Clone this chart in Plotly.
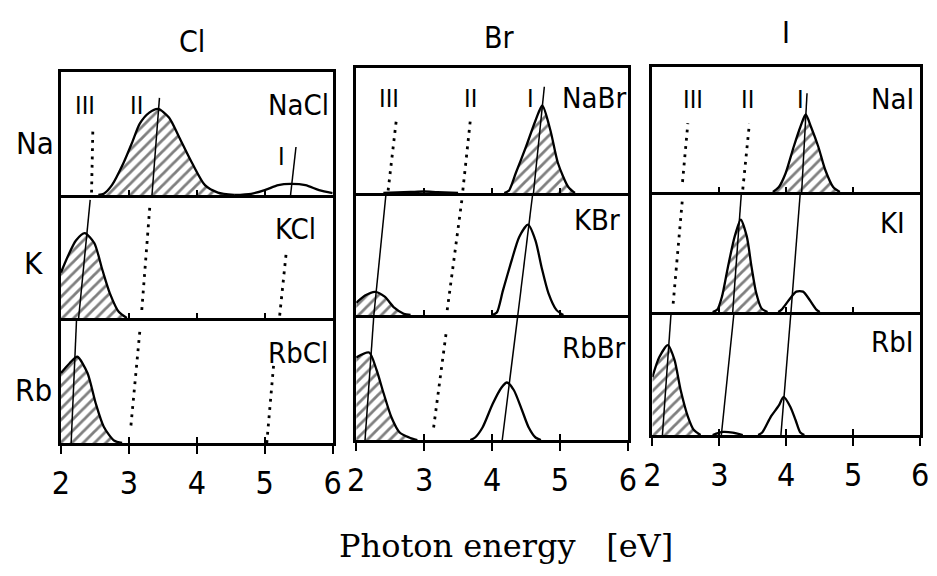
import plotly.graph_objects as go

# ---- data -------------------------------------------------------------
halogens = ["Cl", "Br", "I"]
alkalis = ["Na", "K", "Rb"]
salt_names = [["NaCl", "NaBr", "NaI"],
              ["KCl", "KBr", "KI"],
              ["RbCl", "RbBr", "RbI"]]
energy_ticks = [2, 3, 4, 5, 6]

# emission bands: photon energy [eV] vs. relative intensity (panel height = 1)
nacl_band_x = [2.55, 2.63, 2.75, 2.92, 3.05, 3.16, 3.30, 3.43, 3.59, 3.74, 3.93, 4.12, 4.31, 4.55]
nacl_band_y = [0.0, 0.01, 0.08, 0.26, 0.43, 0.58, 0.67, 0.70, 0.63, 0.47, 0.26, 0.08, 0.02, 0.0]
nacl_weak_x = [4.55, 4.80, 5.00, 5.20, 5.38, 5.60, 5.80, 6.00]
nacl_weak_y = [0.0, 0.01, 0.04, 0.08, 0.09, 0.08, 0.04, 0.015]

kcl_band_x = [2.0, 2.10, 2.22, 2.35, 2.49, 2.61, 2.72, 2.85, 2.97]
kcl_band_y = [0.37, 0.50, 0.63, 0.69, 0.61, 0.39, 0.20, 0.05, 0.0]

rbcl_band_x = [2.0, 2.13, 2.24, 2.39, 2.51, 2.63, 2.78, 2.90]
rbcl_band_y = [0.56, 0.64, 0.69, 0.56, 0.32, 0.13, 0.02, 0.0]

nabr_band_x = [4.18, 4.25, 4.35, 4.50, 4.64, 4.74, 4.86, 4.97, 5.12, 5.22]
nabr_band_y = [0.0, 0.02, 0.16, 0.37, 0.58, 0.70, 0.50, 0.24, 0.05, 0.0]
nabr_weak_x = [2.4, 2.8, 3.0, 3.2, 3.5]
nabr_weak_y = [0.0, 0.008, 0.012, 0.006, 0.0]

kbr_band_x = [2.0, 2.13, 2.28, 2.42, 2.56, 2.70, 2.80]
kbr_band_y = [0.10, 0.16, 0.19, 0.15, 0.06, 0.01, 0.0]
kbr_open_x = [4.00, 4.07, 4.16, 4.29, 4.40, 4.53, 4.64, 4.73, 4.83, 4.95, 5.05]
kbr_open_y = [0.0, 0.02, 0.20, 0.45, 0.64, 0.74, 0.61, 0.39, 0.18, 0.04, 0.0]

rbbr_band_x = [2.0, 2.19, 2.30, 2.40, 2.52, 2.64, 2.78, 2.90]
rbbr_band_y = [0.66, 0.70, 0.56, 0.38, 0.18, 0.06, 0.02, 0.0]
rbbr_open_x = [3.68, 3.75, 3.86, 4.01, 4.14, 4.22, 4.32, 4.44, 4.54, 4.64, 4.72]
rbbr_open_y = [0.0, 0.02, 0.10, 0.29, 0.42, 0.46, 0.40, 0.24, 0.10, 0.02, 0.0]

nai_band_x = [3.80, 3.89, 3.99, 4.11, 4.21, 4.29, 4.37, 4.48, 4.58, 4.70, 4.80]
nai_band_y = [0.0, 0.04, 0.15, 0.36, 0.52, 0.62, 0.52, 0.36, 0.18, 0.04, 0.0]

ki_band_x = [2.90, 2.97, 3.04, 3.13, 3.23, 3.32, 3.41, 3.48, 3.55, 3.63, 3.72]
ki_band_y = [0.0, 0.02, 0.13, 0.38, 0.63, 0.77, 0.63, 0.38, 0.16, 0.03, 0.0]
ki_open_x = [3.88, 3.93, 4.04, 4.15, 4.25, 4.35, 4.45, 4.50]
ki_open_y = [0.0, 0.02, 0.10, 0.17, 0.17, 0.10, 0.02, 0.0]

rbi_band_x = [2.0, 2.10, 2.23, 2.33, 2.42, 2.53, 2.62, 2.72]
rbi_band_y = [0.47, 0.63, 0.73, 0.61, 0.37, 0.15, 0.04, 0.0]
rbi_open_x = [3.58, 3.64, 3.77, 3.89, 3.96, 4.06, 4.14, 4.21, 4.27]
rbi_open_y = [0.0, 0.02, 0.15, 0.24, 0.31, 0.23, 0.12, 0.02, 0.0]
rbi_weak_x = [2.90, 3.05, 3.20, 3.35]
rbi_weak_y = [0.0, 0.025, 0.02, 0.0]

# (row, col, x, y, hatched)
bands = [
    (0, 0, nacl_band_x, nacl_band_y, True),
    (0, 0, nacl_weak_x, nacl_weak_y, False),
    (1, 0, kcl_band_x, kcl_band_y, True),
    (2, 0, rbcl_band_x, rbcl_band_y, True),
    (0, 1, nabr_band_x, nabr_band_y, True),
    (0, 1, nabr_weak_x, nabr_weak_y, False),
    (1, 1, kbr_band_x, kbr_band_y, True),
    (1, 1, kbr_open_x, kbr_open_y, False),
    (2, 1, rbbr_band_x, rbbr_band_y, True),
    (2, 1, rbbr_open_x, rbbr_open_y, False),
    (0, 2, nai_band_x, nai_band_y, True),
    (1, 2, ki_band_x, ki_band_y, True),
    (1, 2, ki_open_x, ki_open_y, False),
    (2, 2, rbi_band_x, rbi_band_y, True),
    (2, 2, rbi_open_x, rbi_open_y, False),
    (2, 2, rbi_weak_x, rbi_weak_y, False),
]

# trend lines of the band families I, II, III (solid: observed, dotted: expected)
seg_row = [0, 0, 0, 1, 1, 1, 2, 2, 2,
           0, 0, 0, 1, 1, 1, 2, 2, 2,
           0, 0, 0, 1, 1, 1, 2, 2, 2]
seg_col = [0, 0, 0, 0, 0, 0, 0, 0, 0,
           1, 1, 1, 1, 1, 1, 1, 1, 1,
           2, 2, 2, 2, 2, 2, 2, 2, 2]
seg_x0 = [2.45, 3.34, 5.38, 2.26, 3.19, 5.22, 2.15, 3.03, 5.03,
          2.47, 3.57, 4.61, 2.26, 3.34, 4.38, 2.13, 3.14, 4.15,
          2.45, 3.35, 4.23, 2.31, 3.20, 4.07, 2.15, 3.03, 3.92]
seg_y0 = [0.02, 0.0, 0.0, 0.0, 0.065, 0.02, 0.0, 0.14, 0.0,
          0.02, 0.02, 0.0, 0.0, 0.04, 0.0, 0.0, 0.10, 0.0,
          0.08, 0.02, 0.0, 0.07, 0.0, 0.0, 0.0, 0.0, 0.0]
seg_x1 = [2.47, 3.45, 5.46, 2.43, 3.31, 5.32, 2.23, 3.16, 5.13,
          2.59, 3.68, 4.77, 2.44, 3.56, 4.60, 2.26, 3.33, 4.38,
          2.53, 3.45, 4.31, 2.45, 3.33, 4.21, 2.28, 3.22, 4.07]
seg_y1 = [0.55, 0.79, 0.39, 0.96, 0.92, 0.55, 1.0, 0.89, 0.62,
          0.58, 0.58, 0.85, 1.0, 0.96, 1.0, 1.0, 0.88, 1.0,
          0.55, 0.55, 0.79, 0.95, 1.0, 1.0, 1.0, 1.0, 1.0]
seg_dotted = [True, False, False, False, True, True, False, True, True,
              True, True, False, False, True, False, False, True, False,
              True, True, False, True, False, False, False, False, False]

# in-panel labels: text, row, col, energy, height
label_text = ["III", "II", "I", "NaCl", "KCl", "RbCl",
              "III", "II", "I", "NaBr", "KBr", "RbBr",
              "III", "II", "I", "NaI", "KI", "RbI"]
label_row = [0, 0, 0, 0, 1, 2, 0, 0, 0, 0, 1, 2, 0, 0, 0, 0, 1, 2]
label_col = [0, 0, 0, 0, 0, 0, 1, 1, 1, 1, 1, 1, 2, 2, 2, 2, 2, 2]
label_x = [2.35, 3.11, 5.25, 5.50, 5.45, 5.49,
           2.49, 3.68, 4.57, 5.50, 5.54, 5.50,
           2.60, 3.42, 4.21, 5.59, 5.58, 5.58]
label_y = [0.73, 0.73, 0.31, 0.73, 0.72, 0.72,
           0.76, 0.76, 0.76, 0.76, 0.78, 0.74,
           0.74, 0.74, 0.74, 0.74, 0.74, 0.76]

# ---- layout geometry (pixels) ----------------------------------------
W, H = 937, 576
col_px = [(53, 330), (354, 631), (656, 929)]
row_px = [(72, 195, 318, 443), (68, 193, 315, 440), (67, 192, 312, 435)]

SANS = "DejaVu Sans Condensed, Roboto, sans-serif"
SERIF = "DejaVu Serif, serif"


def idx(r, c):
    return r * 3 + c + 1


fig = go.Figure()

for r, c, xs, ys, hatched in bands:
    i = idx(r, c)
    kw = dict(x=xs, y=ys, mode="lines", xaxis=f"x{i}", yaxis=f"y{i}",
              line=dict(color="black", width=2.3, shape="spline", smoothing=0.7),
              showlegend=False, hoverinfo="skip")
    if hatched:
        kw.update(fill="tozeroy", fillcolor="white",
                  fillpattern=dict(shape="/", size=8, solidity=0.35,
                                   fgcolor="black", bgcolor="white"))
    fig.add_trace(go.Scatter(**kw))

for r, c, x0, y0, x1, y1, dotted in zip(seg_row, seg_col, seg_x0, seg_y0,
                                        seg_x1, seg_y1, seg_dotted):
    i = idx(r, c)
    fig.add_trace(go.Scatter(
        x=[x0, x1], y=[y0, y1], mode="lines", xaxis=f"x{i}", yaxis=f"y{i}",
        line=dict(color="black", width=2.8 if dotted else 1.5,
                  dash="2.8px,5.5px" if dotted else "solid"),
        showlegend=False, hoverinfo="skip"))

layout = dict(width=W, height=H, margin=dict(l=0, r=0, t=0, b=0),
              paper_bgcolor="white", plot_bgcolor="rgba(0,0,0,0)",
              showlegend=False)

for r in range(3):
    for c in range(3):
        i = idx(r, c)
        xd = [col_px[c][0] / W, col_px[c][1] / W]
        yd = [1 - row_px[c][r + 1] / H, 1 - row_px[c][r] / H]
        bottom = r == 2
        layout[f"xaxis{i}"] = dict(
            domain=xd, range=[2, 6], anchor=f"y{i}", showgrid=False,
            zeroline=False, showline=True, linecolor="black", linewidth=2.8,
            mirror=(r == 0), tickvals=energy_ticks,
            ticks="outside" if bottom else "inside", ticklen=8 if bottom else 5,
            tickwidth=1.6, tickcolor="black",
            showticklabels=bottom, ticklabelstandoff=2,
            tickfont=dict(family=SANS, size=32, color="black"))
        layout[f"yaxis{i}"] = dict(
            domain=yd, range=[0, 1], anchor=f"x{i}", showgrid=False,
            zeroline=False, showline=True, linecolor="black", linewidth=2.8,
            mirror=True, ticks="", showticklabels=False)

# inner tick marks on the bottom row (the scale ticks cross the axis line)
for c in range(3):
    base = idx(2, c)
    j = 10 + c
    layout[f"xaxis{j}"] = dict(
        overlaying=f"x{base}", anchor=f"y{base}", range=[2, 6], side="bottom",
        showgrid=False, zeroline=False, showline=False, tickvals=energy_ticks,
        ticks="inside", ticklen=6, tickwidth=1.6, tickcolor="black",
        showticklabels=False)
    fig.add_trace(go.Scatter(x=[2], y=[0], xaxis=f"x{j}", yaxis=f"y{base}",
                             mode="markers", marker=dict(opacity=0),
                             showlegend=False, hoverinfo="skip"))

annotations = []
for t, r, c, x, y in zip(label_text, label_row, label_col, label_x, label_y):
    i = idx(r, c)
    roman = t in ("I", "II", "III")
    annotations.append(dict(
        text=t, x=x, y=y, xref=f"x{i}", yref=f"y{i}", showarrow=False,
        xanchor="center", yanchor="middle",
        font=dict(family=SANS, size=25 if roman else 29, color="black")))

title_pos = [(187, 41), (500, 38), (792, 32)]
for name, (px, py) in zip(halogens, title_pos):
    annotations.append(dict(text=name, x=px / W, y=1 - py / H, xref="paper",
                            yref="paper", showarrow=False,
                            xanchor="center", yanchor="middle",
                            font=dict(family=SANS, size=30, color="black")))

row_pos = [(26, 143), (25, 263), (25, 390)]
for name, (px, py) in zip(alkalis, row_pos):
    annotations.append(dict(text=name, x=px / W, y=1 - py / H, xref="paper",
                            yref="paper", showarrow=False,
                            xanchor="center", yanchor="middle",
                            font=dict(family=SANS, size=31, color="black")))

annotations.append(dict(text="Photon energy\u00a0\u00a0\u00a0[eV]",
                        x=507 / W, y=1 - 546 / H, xref="paper", yref="paper",
                        showarrow=False, xanchor="center", yanchor="middle",
                        font=dict(family=SERIF, size=32, color="black")))

layout["annotations"] = annotations
fig.update_layout(**layout)

fig.write_html("out.html")
